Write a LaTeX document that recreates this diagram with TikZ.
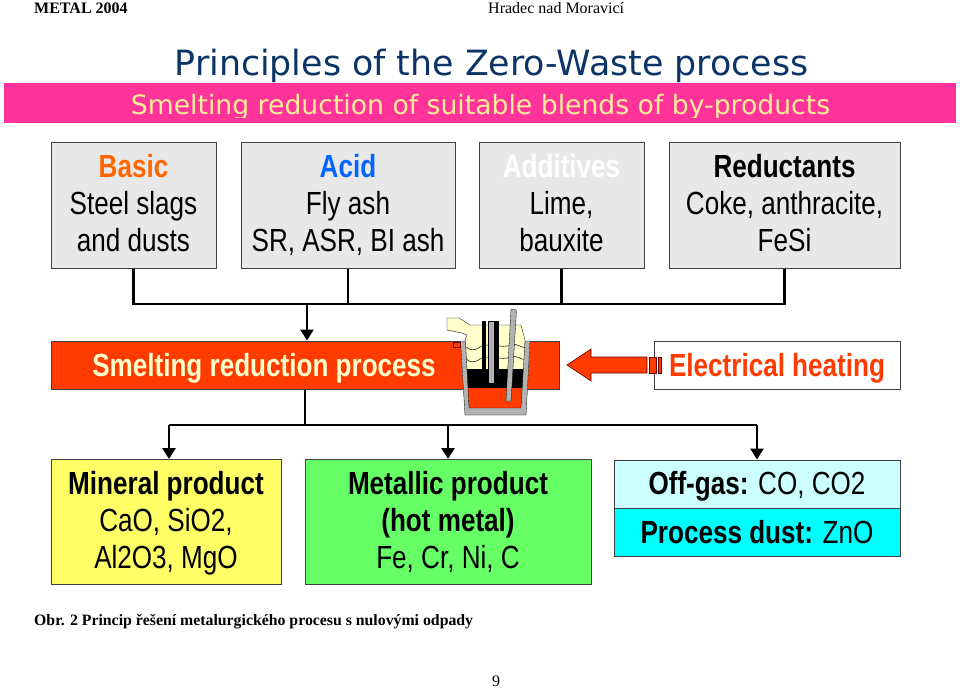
\documentclass[tikz,border=0pt]{standalone}
\usepackage{fontspec}
\setmainfont{Liberation Serif}
\newfontfamily\verd{DejaVu Sans}
\newfontfamily\narrow[FakeStretch=0.815]{Liberation Sans}
\usetikzlibrary{arrows.meta,calc}
\definecolor{greybox}{HTML}{E8E8E8}
\definecolor{pinkbar}{HTML}{FF3399}
\definecolor{navyt}{HTML}{0B3566}
\definecolor{creamt}{HTML}{FFEE99}
\definecolor{orangered}{HTML}{FF3B00}
\definecolor{headorange}{HTML}{FF6600}
\definecolor{headblue}{HTML}{0066FF}
\definecolor{yellowbox}{HTML}{FFFF66}
\definecolor{greenbox}{HTML}{66FF66}
\definecolor{paleblue}{HTML}{CCFFFF}
\definecolor{cyanbox}{HTML}{00FFFF}
\definecolor{slagcream}{HTML}{FFFFCC}
\definecolor{steelgrey}{HTML}{B2B2B2}
\newcommand\tstr{\rule{0pt}{26pt}}
\newcommand\bstr{\rule[-7pt]{0pt}{7pt}}
\newcommand\ostr{\rule[-6pt]{0pt}{34pt}}
\newcommand\pstr{\rule[-6pt]{0pt}{35pt}}
\tikzset{
 x=1pt,y=-1pt,
 box/.style={draw=black!75,line width=1pt,minimum height=#1,inner sep=0pt,align=center,font=\narrow\fontsize{32}{37}\selectfont},
 greyb/.style={box=126pt,fill=greybox},
 outb/.style={box=125pt},
 link/.style={draw=black,line width=2.6pt},
 linkarrow/.style={link,-{Triangle[length=11pt,width=13pt]}},
 page/.style={inner sep=0pt,font=\fontsize{16}{18}\selectfont},
 hot/.style={fill=orangered,draw=black!60!red,line width=.6pt},
 steel/.style={fill=steelgrey,draw=black,line width=.3pt}
}
\begin{document}
\begin{tikzpicture}
\useasboundingbox (0,0) rectangle (960,690);
\node[page,font=\bfseries\fontsize{16}{18}\selectfont,anchor=west] (hdl) at (34,8) {METAL 2004};
\node[page,anchor=west] (hdr) at (488,8) {Hradec nad Moravicí};
\node[inner sep=0pt,text=navyt,font=\verd\fontsize{34.8}{40}\selectfont] (title) at (491.5,66) {Principles of the Zero-Waste process};
\node[fill=pinkbar,minimum width=952pt,minimum height=40pt,inner sep=0pt] (bar) at (480,103) {};
\begin{scope}
\clip (0,83) rectangle (960,118);
\node[inner sep=0pt,text=creamt,font=\verd\fontsize{26.65}{30}\selectfont] (sub) at (480.5,107) {Smelting reduction of suitable blends of by-products};
\end{scope}
% input boxes
\node[greyb,minimum width=165pt] (basic) at (133.5,205) {\tstr\textcolor{headorange}{\bfseries Basic}\\Steel slags\\and dusts\bstr};
\node[greyb,minimum width=214pt] (acid) at (348,205) {\tstr\textcolor{headblue}{\bfseries Acid}\\Fly ash\\SR, ASR, BI ash\bstr};
\node[greyb,minimum width=165pt] (addit) at (561.5,205) {\tstr\textcolor{white}{\bfseries Additives}\\Lime,\\bauxite\bstr};
\node[greyb,minimum width=231pt] (reduc) at (784.5,205) {\tstr{\bfseries Reductants}\\Coke, anthracite,\\FeSi\bstr};
% process row
\node[box=48pt,fill=orangered,minimum width=508pt] (smelt) at (305,365) {};
\node[inner sep=0pt,text=slagcream,font=\narrow\bfseries\fontsize{32}{37}\selectfont] (smeltt) at (264,365) {\pstr Smelting reduction process};
\node[box=48pt,fill=white,minimum width=246pt,text=orangered,font=\narrow\bfseries\fontsize{32}{37}\selectfont] (elec) at (777,365) {\pstr Electrical heating};
% outputs
\node[outb,fill=yellowbox,minimum width=230pt] (miner) at (166,522) {\tstr{\bfseries Mineral product}\\CaO, SiO2,\\Al2O3, MgO\bstr};
\node[outb,fill=greenbox,minimum width=286pt] (metal) at (448,522) {\tstr{\bfseries Metallic product}\\{\bfseries (hot metal)}\\Fe, Cr, Ni, C\bstr};
\node[box=48pt,fill=paleblue,minimum width=286pt] (gas) at (757,484) {\ostr{\bfseries Off-gas:} CO, CO2};
\node[box=48pt,fill=cyanbox,minimum width=286pt] (dust) at (757,532) {\ostr{\bfseries Process dust:} ZnO};
% connectors
\coordinate (topbus) at (307,304);
\coordinate (botout) at (305,425);
\coordinate (botl) at (169,425);
\coordinate (botr) at (757,425);
\draw[link] (basic.south) |- (topbus) -| (reduc.south);
\draw[link] (acid.south) -- (acid.south |- topbus);
\draw[link] (addit.south) -- (addit.south |- topbus);
\draw[linkarrow] (topbus) -- (topbus |- smelt.north);
\draw[link] (smelt.south -| botout) -- (botout);
\draw[link] (botl) -- (botr);
\draw[linkarrow] (botl) -- (botl |- miner.north);
\draw[linkarrow] (botl -| metal.north) -- (metal.north);
\draw[linkarrow] (botr) -- (gas.north);
% heating arrow
\path[hot] (567,365) -- (591,349) -- (591,357) -- (647,357) -- (647,373) -- (591,373) -- (591,381) -- cycle;
\path[hot] (649.5,357) rectangle (656,373);
\path[hot] (658.5,357) rectangle (661.5,373);
% furnace
\fill[white] (460.5,341) -- (530,341) -- (526,415) -- (465,415) -- cycle;
\fill[slagcream,draw=black,line width=.3pt] (447,318) -- (459,318) -- (470,325) -- (521,325) -- (525,340) -- (525,372) -- (466,372) -- (465,340) -- (467,335) -- (462,333) -- (447,330) -- cycle;
\foreach \yy in {346,358}{
 \draw[black,line width=.5pt] (465,\yy) .. controls (470,\yy+5) and (474,\yy+5) .. (480,\yy+1) .. controls (488,\yy-4) and (500,\yy+3) .. (512,\yy-1) .. controls (516,\yy-3) and (520,\yy+1) .. (526,\yy+2);
}
\fill[black] (466,369) -- (525,369) -- (524,389) -- (467,389) -- cycle;
\fill[orangered] (467,388) -- (524,388) -- (522,409) -- (468,409) -- cycle;
\fill[black] (482,321) rectangle (486,369);
\fill[black] (495,321) rectangle (499,369);
\path[steel] (488.5,321) rectangle (494,383);
\path[steel] (511,309) -- (516.5,310) -- (511,401) -- (506,401) -- cycle;
\path[steel] (460.5,341) -- (465.5,341) -- (469,408) -- (521,408) -- (525,341) -- (530,341) -- (526,415) -- (465,415) -- cycle;
\path[hot,line width=.4pt] (453,342) rectangle (460.5,347);
% caption
\node[inner sep=0pt,anchor=west,font=\bfseries\fontsize{15.8}{18}\selectfont] (cap) at (34,621.5) {Obr. 2 Princip řešení metalurgického procesu s nulovými odpady};
\node[page,anchor=center] (pg) at (496,681) {9};
\end{tikzpicture}
\end{document}
